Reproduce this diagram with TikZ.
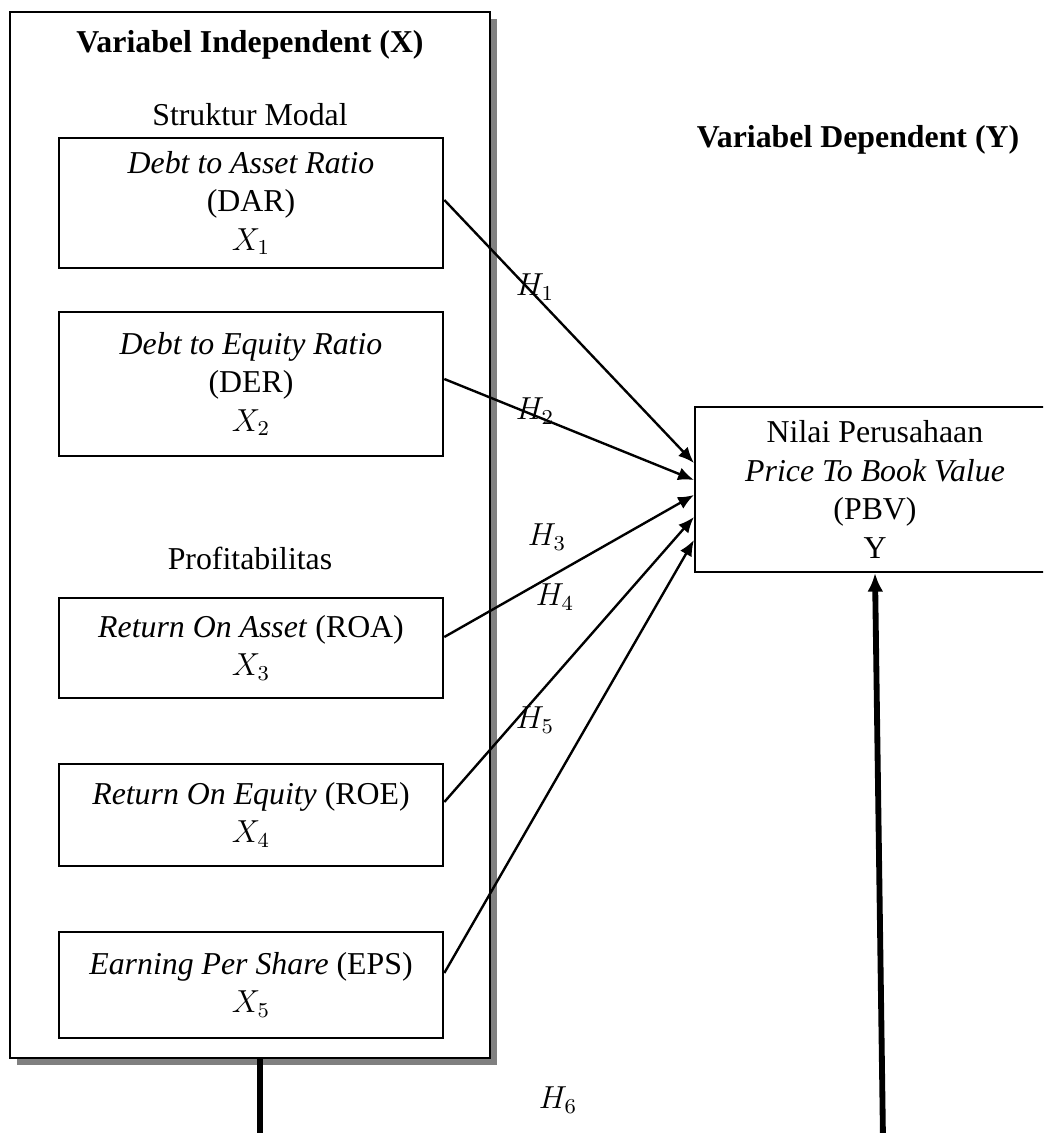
\documentclass[tikz,border=0pt]{standalone}
\usepackage{fontspec}
\setmainfont{Liberation Serif}
\usetikzlibrary{arrows.meta,positioning}

\tikzset{
	varbox/.style={draw, line width=0.75pt, minimum width=145pt, align=center, inner sep=2pt},
	hyp/.style={-{Latex[length=6pt,width=5pt]}, line width=0.9pt},
	hlabel/.style={inner sep=0pt},
}

\begin{document}
\fontsize{12pt}{14.5pt}\selectfont
\begin{tikzpicture}[x=0.377pt, y=-0.377pt]
			\clip (0,0) rectangle (1043,1133);
			
			% independent block with its shadow
			\fill[black!50] (17,19) rectangle (497,1065);
			\node[draw, fill=white, line width=0.8pt, minimum width=181pt, minimum height=394.3pt] (indep) at (250,535) {};
			\node[font=\bfseries] (titleX) at (250,45) {Variabel Independent (X)};
			
			\node (modal) at (250,115) {Struktur Modal};
			\node[varbox, minimum height=49pt] (dar) at (251,203) {\textit{Debt to Asset Ratio}\\(DAR)\\$X_1$};
			\node[varbox, minimum height=54pt] (der) at (251,384) {\textit{Debt to Equity Ratio}\\(DER)\\$X_2$};
			
			\node (profit) at (250,558) {Profitabilitas};
			\node[varbox, minimum height=38pt] (roa) at (251,648) {\textit{Return On Asset} (ROA)\\$X_3$};
			\node[varbox, minimum height=38.8pt] (roe) at (251,815) {\textit{Return On Equity} (ROE)\\$X_4$};
			\node[varbox, minimum height=40.3pt] (eps) at (251,985) {\textit{Earning Per Share} (EPS)\\$X_5$};
			
			% dependent side
			\node[font=\bfseries] (titleY) at (858,140) {Variabel Dependent (Y)};
			\node[varbox, line width=0.8pt, minimum width=135.7pt, minimum height=62.2pt] (pbv) at (875,489.5) {Nilai Perusahaan\\\textit{Price To Book Value}\\(PBV)\\Y};
			
			\draw[hyp] (dar.east |- 0,200) -- (pbv.west |- 0,463);
			\draw[hyp] (der.east |- 0,379) -- (pbv.west |- 0,480);
			\draw[hyp] (roa.east |- 0,637) -- (pbv.west |- 0,495);
			\draw[hyp] (roe.east |- 0,802) -- (pbv.west |- 0,517);
			\draw[hyp] (eps.east |- 0,973) -- (pbv.west |- 0,540);
			
			\node[hlabel] (h1) at (535,287) {$H_1$};
			\node[hlabel] (h2) at (535,411) {$H_2$};
			\node[hlabel] (h3) at (547,537) {$H_3$};
			\node[hlabel] (h4) at (555,597) {$H_4$};
			\node[hlabel] (h5) at (535,720) {$H_5$};
			\node[hlabel] (h6) at (558,1100) {$H_6$};
			
			% thick lines at the bottom
			\coordinate (xbot) at (260,1140);
			\coordinate (ybot) at (883,1140);
			\draw[line width=2.3pt] (indep.south -| xbot) -- (xbot);
			\draw[-{Latex[length=7pt,width=6pt]}, line width=2.2pt] (ybot) -- (pbv.south);
\end{tikzpicture}
\end{document}
